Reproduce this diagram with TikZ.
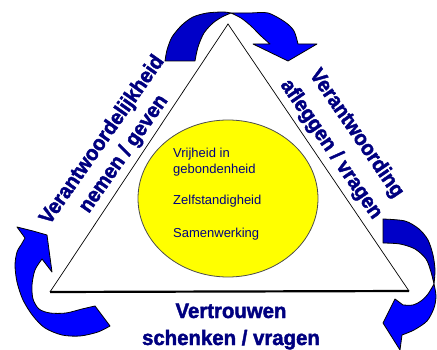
\documentclass[tikz,border=0pt]{standalone}
\usepackage{fontspec}
\usepackage{graphicx}
\setmainfont{Liberation Sans}
\newfontfamily\heavyfont[FakeBold=2]{Liberation Sans Bold}
\definecolor{navytext}{RGB}{0,0,128}
\definecolor{darkarrow}{RGB}{0,0,200}
\definecolor{brightarrow}{RGB}{0,0,255}
\definecolor{circfill}{RGB}{255,255,0}
\newcommand{\narrowed}[1]{\scalebox{0.95}[1]{#1}}
\tikzset{
  biglabel/.style={font=\heavyfont\fontsize{21}{21}\selectfont, text=navytext, inner sep=0pt, anchor=base},
  innerlabel/.style={font=\fontsize{13}{13}\selectfont, text=navytext, inner sep=0pt, anchor=base west},
  arrowedge/.style={draw=black, line width=0.8pt, line join=round},
}
\begin{document}
\begin{tikzpicture}[x=1pt,y=-1pt]
\useasboundingbox (0,0) rectangle (437,350);

% circle
\draw[fill=circfill, draw=black!70, line width=0.8pt] (228,198.5) ellipse [x radius=90, y radius=78.5];

% triangle
\coordinate (apex) at (228,24);
\coordinate (bl) at (50,292);
\coordinate (br) at (409,291);
\draw[line width=0.7pt] (bl) -- (apex) -- (br);
\draw[line width=2.2pt] (bl) -- (br);

% inner texts
\node[innerlabel] (t1) at (173,158) {Vrijheid in};
\node[innerlabel] (t2) at (173,174) {gebondenheid};
\node[innerlabel] (t3) at (173,205) {Zelfstandigheid};
\node[innerlabel] (t4) at (173,238) {Samenwerking};

% big labels
\node[biglabel, rotate=55] (l1) at (107,143.3) {\narrowed{Verantwoordelijkheid}};
\node[biglabel, rotate=55] (l2) at (128.5,157.2) {\narrowed{nemen / geven}};
\node[biglabel, rotate=-55.5] (r1) at (351.8,136.7) {\narrowed{Verantwoording}};
\node[biglabel, rotate=-55.5] (r2) at (326.5,152.5) {\narrowed{afleggen / vragen}};
\node[biglabel] (b1) at (231,318) {\scalebox{0.97}[1]{Vertrouwen}};
\node[biglabel] (b2) at (231,345) {\scalebox{0.97}[1]{schenken / vragen}};

% top arrow
\path[fill=darkarrow, arrowedge]
  plot[smooth] coordinates {(165,61) (167,50) (172,37) (182,25) (193,17) (207,13) (223,12) (231,13)}
  -- plot[smooth] coordinates {(231,13) (222,17) (213,23) (204,33) (198,47) (195,61)} -- cycle;
\path[fill=brightarrow, arrowedge]
  plot[smooth] coordinates {(231,13) (250,13) (268,13) (285,22) (294,31) (298,44)}
  -- (317,44) -- (288,61) -- (253,44) -- (270,44)
  -- plot[smooth] coordinates {(270,44) (261,36) (251,26) (241,18) (231,13)} -- cycle;

% right arrow
\path[fill=darkarrow, arrowedge]
  plot[smooth] coordinates {(383,219) (405,221) (419,229) (428,240) (433,255) (435,270) (434,284)}
  -- plot[smooth] coordinates {(434,284) (431,272) (426,259) (415,249) (400,244) (383,243)} -- cycle;
\path[fill=brightarrow, arrowedge]
  plot[smooth] coordinates {(434,284) (436,296) (434,308) (427,321) (414,330) (402,335)}
  -- (400,350) -- (383,323) -- (395,299) -- (403,305)
  -- plot[smooth] coordinates {(403,305) (413,305) (421,301) (428,294) (434,284)} -- cycle;

% left arrow
\path[fill=brightarrow, arrowedge]
  (17,227) -- (33,231) -- (47,235) -- (49,250) -- (52,272) -- (42,259)
  -- plot[smooth] coordinates {(42,259) (35,270) (32,285) (33,299) (39,309) (50,313) (66,313) (82,309) (95,306)}
  -- (110,326)
  -- plot[smooth] coordinates {(110,326) (98,332) (80,336) (62,335) (45,328) (33,316) (23,300) (17,282) (15,265) (17,252) (21,245)}
  -- (25,238) -- cycle;
\end{tikzpicture}
\end{document}
